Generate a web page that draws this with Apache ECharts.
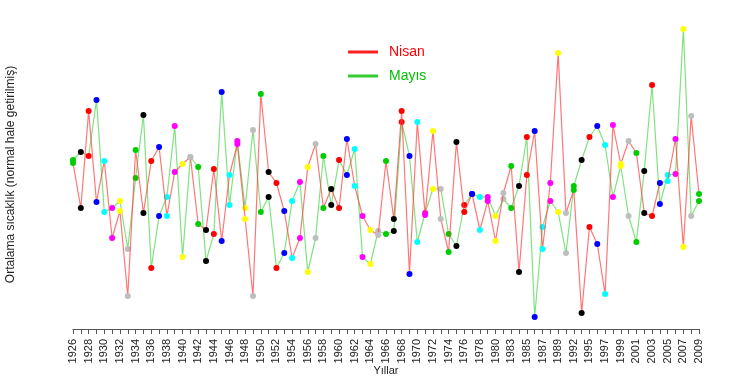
<!DOCTYPE html>
<html>
<head>
<meta charset="utf-8">
<script src="https://cdn.jsdelivr.net/npm/echarts@6/dist/echarts.min.js"></script>
<style>html,body{margin:0;padding:0;background:#fff}#c{width:736px;height:381px}</style>
</head>
<body>
<div id="c"></div>
<script>
var years = [1926,1927,1928,1929,1930,1931,1932,1933,1934,1935,1936,1937,1938,1939,1940,1941,1942,1943,1944,1945,
  1946,1947,1948,1949,1950,1951,1952,1953,1954,1955,1956,1957,1958,1959,1960,1961,1962,1963,1964,1965,
  1966,1967,1968,1969,1970,1971,1972,1973,1974,1975,1976,1977,1978,1979,1980,1981,1983,1984,1985,1986,
  1987,1988,1989,1990,1992,1993,1995,1996,1997,1998,1999,2000,2001,2002,2003,2004,2005,2006,2007,2008,2009];

var nisan = [0.925,-0.2,2.225,-0.05,0.975,-0.95,-0.275,-2.4,1.25,-0.325,
  0.975,1.325,-0.4,0.7,0.9,1.075,-0.6,-0.75,0.775,-1.025,
  0.625,1.4,-0.475,-2.4,2.65,0.7,0.425,-0.275,-1.45,-0.95,
  0.825,1.4,-0.2,0.275,-0.2,1.525,0.35,-0.4,-0.75,-0.875,
  0.975,-0.475,2.225,-1.85,1.95,-0.375,1.725,-0.475,-1.3,1.45,
  -0.3,0.15,-0.75,-0.025,-1.025,0.175,0.85,-1.8,0.625,1.725,
  -1.225,0.425,3.675,-0.325,0.25,-2.825,-0.675,-1.1,-2.35,1.875,
  0.9,1.475,1.175,-0.325,-0.4,0.425,0.475,1.525,-1.175,2.1,0.15];

var mayis = [1.0,1.2,1.1,2.5,-0.3,-0.2,-0.025,-1.225,0.55,2.125,
  -1.7,-0.4,0.075,1.85,-1.425,1.075,0.825,-1.525,-0.85,2.7,
  -0.125,1.475,-0.2,1.75,-0.3,0.075,-1.7,-1.325,-0.025,0.45,
  -1.8,-0.95,1.1,-0.125,1.0,0.625,1.275,-1.425,-1.6,-0.775,
  -0.85,-0.775,1.95,1.1,-1.05,-0.325,0.275,0.275,-0.85,-1.15,
  -0.125,0.15,0.075,0.075,-0.4,0.025,-0.2,0.35,1.575,-2.925,
  -0.675,-0.025,-0.3,-1.325,0.35,1.0,1.575,1.85,1.375,0.075,
  0.85,-0.4,-1.05,0.725,2.875,-0.1,0.625,0.65,4.275,-0.4,-0.025];

var pointColors = ['#00CD00','#000000','#FF0000','#0000FF','#00FFFF','#FF00FF','#FFFF00','#BEBEBE'];

function pts(arr){
  return arr.map(function(v,i){ return {value:v, itemStyle:{color:pointColors[i%8]}}; });
}

var chart = echarts.init(document.getElementById('c'));
chart.setOption({
  animation:false,
  backgroundColor:'#ffffff',
  grid:{left:73, right:37, top:20, bottom:52, containLabel:false, outerBoundsMode:'none'},
  legend:{
    orient:'vertical', left:343, top:40, itemWidth:30, itemHeight:3, itemGap:10,
    data:[
      {name:'Nisan', icon:'rect', itemStyle:{color:'#FF2020'}, textStyle:{color:'#FF0000'}},
      {name:'Mayıs', icon:'rect', itemStyle:{color:'#33CC33'}, textStyle:{color:'#00C000'}}
    ],
    textStyle:{fontFamily:'Liberation Sans', fontSize:14, lineHeight:14, padding:[0,0,0,6]}
  },
  xAxis:{
    type:'category', data:years, boundaryGap:false,
    name:'Yıllar', nameLocation:'middle', nameGap:36, nameMoveOverlap:false,
    nameTextStyle:{fontFamily:'Liberation Sans', fontSize:11, color:'#222'},
    axisLine:{onZero:false, lineStyle:{color:'#555', width:1}},
    axisTick:{interval:0, length:5, lineStyle:{color:'#555'}},
    axisLabel:{interval:1, rotate:90, margin:10, fontFamily:'Liberation Sans', fontSize:11, color:'#222'},
    splitLine:{show:false}
  },
  yAxis:{
    type:'value', min:-3.225, max:4.5,
    name:'Ortalama sıcaklık (normal hale getirilmiş)', nameLocation:'middle', nameGap:56,
    nameTextStyle:{fontFamily:'Liberation Sans', fontSize:12, color:'#222'},
    axisLine:{show:false}, axisTick:{show:false}, axisLabel:{show:false}, splitLine:{show:false}
  },
  series:[
    {name:'Nisan', type:'line', data:pts(nisan), symbol:'circle', symbolSize:6, showAllSymbol:true,
     color:'#FF0000', lineStyle:{color:'rgba(255,60,60,0.7)', width:1.2}, z:3},
    {name:'Mayıs', type:'line', data:pts(mayis), symbol:'circle', symbolSize:6, showAllSymbol:true,
     color:'#00CD00', lineStyle:{color:'rgba(60,210,60,0.65)', width:1.2}, z:2}
  ]
});
</script>
</body>
</html>
